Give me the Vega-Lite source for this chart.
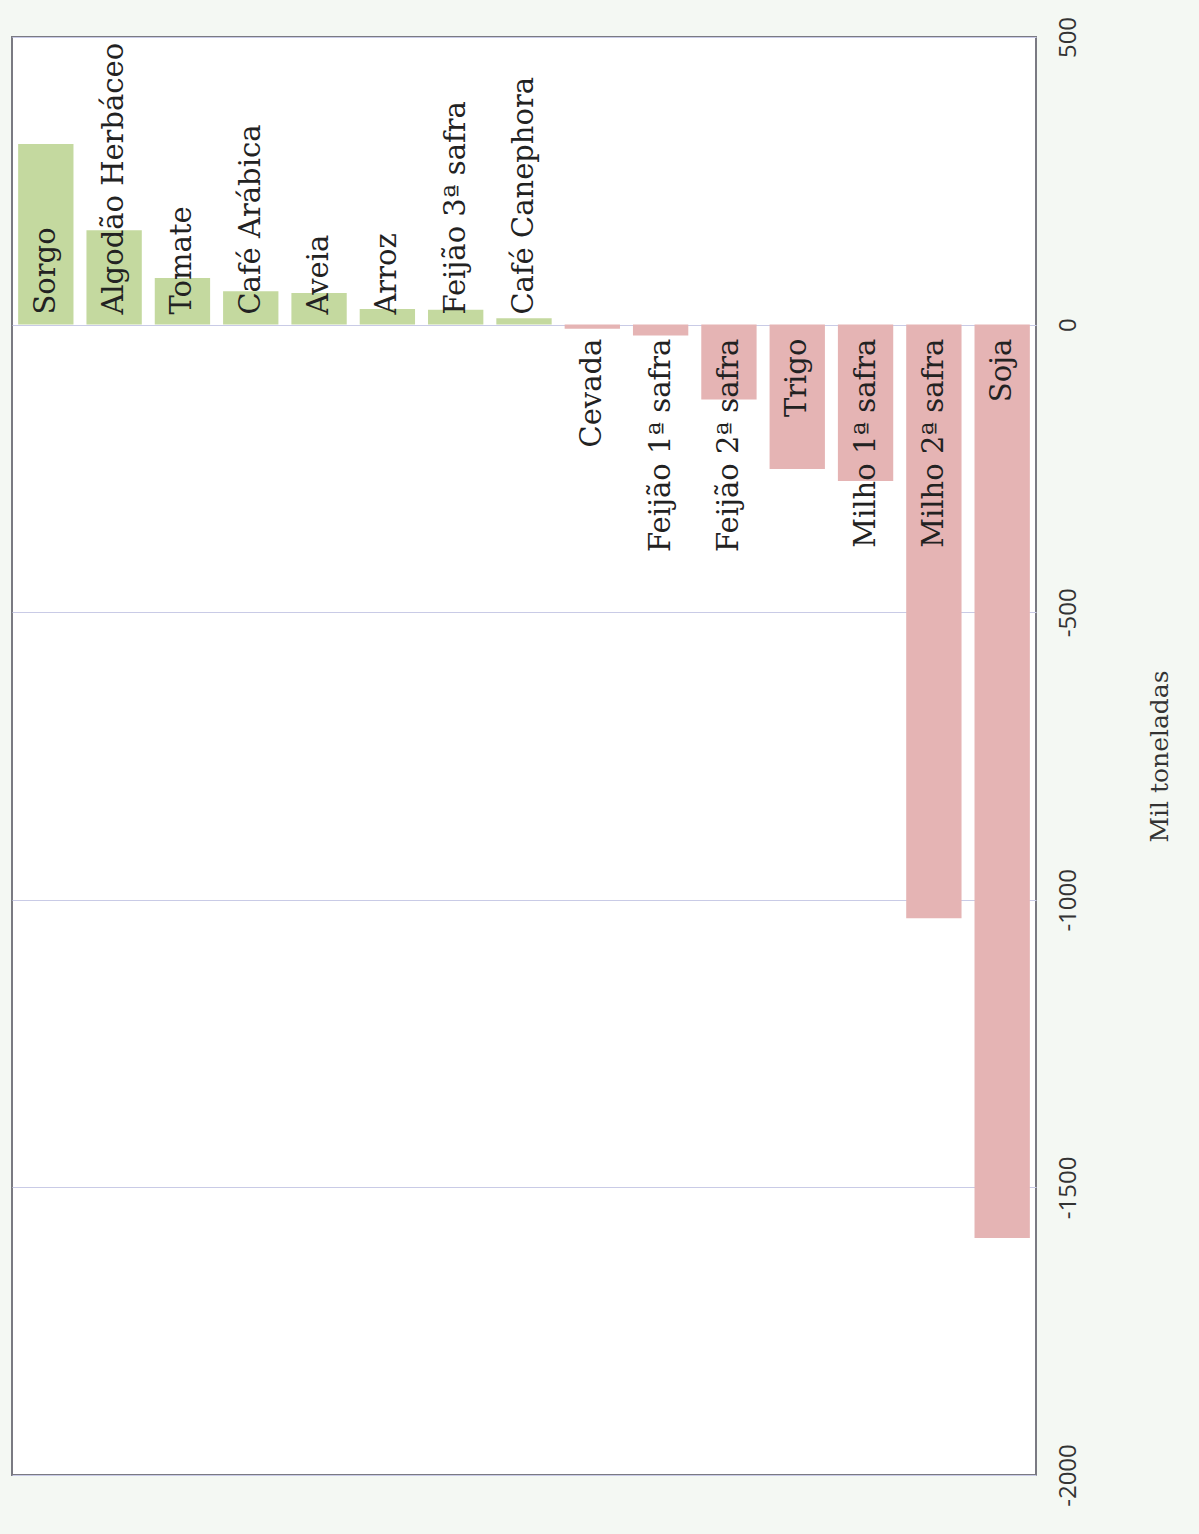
{
  "$schema": "https://vega.github.io/schema/vega-lite/v6.json",
  "width": 1024,
  "height": 1438,
  "padding": {"left": 12, "top": 16, "right": 28, "bottom": 40},
  "autosize": {"type": "pad"},
  "background": "#f4f8f3",
  "config": {"view": {"fill": "#ffffff", "stroke": "#7a7a82", "strokeWidth": 2}},
  "data": {"values": [
    {"cultura": "Sorgo", "valor": 314},
    {"cultura": "Algodão Herbáceo", "valor": 164},
    {"cultura": "Tomate", "valor": 81},
    {"cultura": "Café Arábica", "valor": 58},
    {"cultura": "Aveia", "valor": 55},
    {"cultura": "Arroz", "valor": 27},
    {"cultura": "Feijão 3ª safra", "valor": 26},
    {"cultura": "Café Canephora", "valor": 11},
    {"cultura": "Cevada", "valor": -7},
    {"cultura": "Feijão 1ª safra", "valor": -19},
    {"cultura": "Feijão 2ª safra", "valor": -130},
    {"cultura": "Trigo", "valor": -251},
    {"cultura": "Milho 1ª safra", "valor": -272},
    {"cultura": "Milho 2ª safra", "valor": -1032},
    {"cultura": "Soja", "valor": -1588}
  ]},
  "encoding": {
    "x": {"field": "cultura", "type": "nominal", "sort": null, "axis": null,
          "scale": {"paddingInner": 0.19, "paddingOuter": 0.09}}
  },
  "layer": [
    {
      "mark": {"type": "bar"},
      "encoding": {
        "y": {"field": "valor", "type": "quantitative",
              "scale": {"domain": [-2000, 500], "nice": false, "zero": false},
              "axis": {
                "orient": "right",
                "values": [-2000, -1500, -1000, -500, 0, 500],
                "labelExpr": "'' + datum.value",
                "labelAngle": 270,
                "labelFont": "Open Sans",
                "labelFontSize": 24,
                "labelColor": "#333333",
                "labelPadding": 20,
                "labelOverlap": false,
                "ticks": false,
                "domain": false,
                "grid": true,
                "gridColor": "#c9cbe6",
                "gridWidth": 1,
                "title": "Mil toneladas",
                "titleAngle": 270,
                "titleFont": "DejaVu Serif",
                "titleFontWeight": "normal",
                "titleFontSize": 25,
                "titleColor": "#333333",
                "titlePadding": 92
              }},
        "color": {"condition": {"test": "datum.valor > 0", "value": "#c4d99f"}, "value": "#e5b4b4"}
      }
    },
    {
      "mark": {"type": "rule", "color": "#9c9cab", "strokeWidth": 1.5},
      "encoding": {"y": {"datum": 0}}
    },
    {
      "transform": [{"filter": "datum.valor > 0"}],
      "mark": {"type": "text", "angle": 270, "align": "left", "baseline": "middle", "dx": 10,
               "font": "DejaVu Serif", "fontSize": 29, "color": "#222222"},
      "encoding": {"y": {"datum": 0}, "text": {"field": "cultura"}}
    },
    {
      "transform": [{"filter": "datum.valor < 0"}],
      "mark": {"type": "text", "angle": 270, "align": "right", "baseline": "middle", "dx": -14,
               "font": "DejaVu Serif", "fontSize": 29, "color": "#222222"},
      "encoding": {"y": {"datum": 0}, "text": {"field": "cultura"}}
    }
  ]
}
